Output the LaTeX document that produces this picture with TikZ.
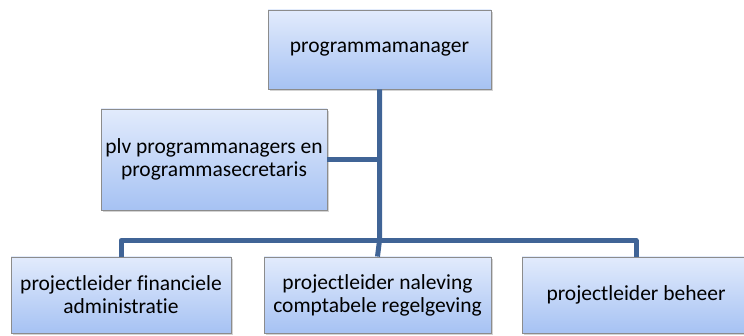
\documentclass[tikz,border=0pt]{standalone}
\usepackage{fontspec}
\setmainfont[RawFeature={-liga}]{Carlito}
\usetikzlibrary{shadows,calc}
\definecolor{linecol}{RGB}{64,100,150}
\definecolor{boxtop}{RGB}{226,235,252}
\definecolor{boxbot}{RGB}{166,194,243}
\definecolor{boxline}{RGB}{140,140,140}
\tikzset{
  orgbox/.style={draw=boxline, line width=0.9pt, top color=boxtop, bottom color=boxbot,
    inner sep=0pt, align=center, font=\fontsize{21.5}{23}\selectfont,
    drop shadow={opacity=0.35, shadow xshift=1.5pt, shadow yshift=-2.5pt}},
  conn/.style={draw=linecol, line width=5pt, line join=round}
}
\begin{document}
\begin{tikzpicture}[x=1pt,y=-1pt]
\useasboundingbox (0,0) rectangle (744,336);
\begin{scope}
\clip (0,0) rectangle (744,336);
\node[orgbox, minimum width=223pt, minimum height=79pt] (top) at (379.5,49.5) {programmamanager};
\node[orgbox, minimum width=226pt, minimum height=101pt] (plv) at (214,159.5) {plv programmanagers en\\programmasecretaris};
\node[orgbox, minimum width=220pt, minimum height=76pt] (b1) at (121,295) {projectleider financiele\\administratie};
\node[orgbox, minimum width=227pt, minimum height=76pt] (b2) at (377.5,295) {projectleider naleving\\comptabele regelgeving};
\node[orgbox, minimum width=228pt, minimum height=76pt] (b3) at (636,295) {projectleider beheer};
\coordinate (bar) at (380,240.5);
\draw[conn] (b1.north) |- (bar) -| (b3.north);
\draw[conn] (top.south) -- (top.south |- bar) -- (b2.north);
\draw[conn] (plv.east) -- (plv.east -| top.south);
\end{scope}
\end{tikzpicture}
\end{document}
